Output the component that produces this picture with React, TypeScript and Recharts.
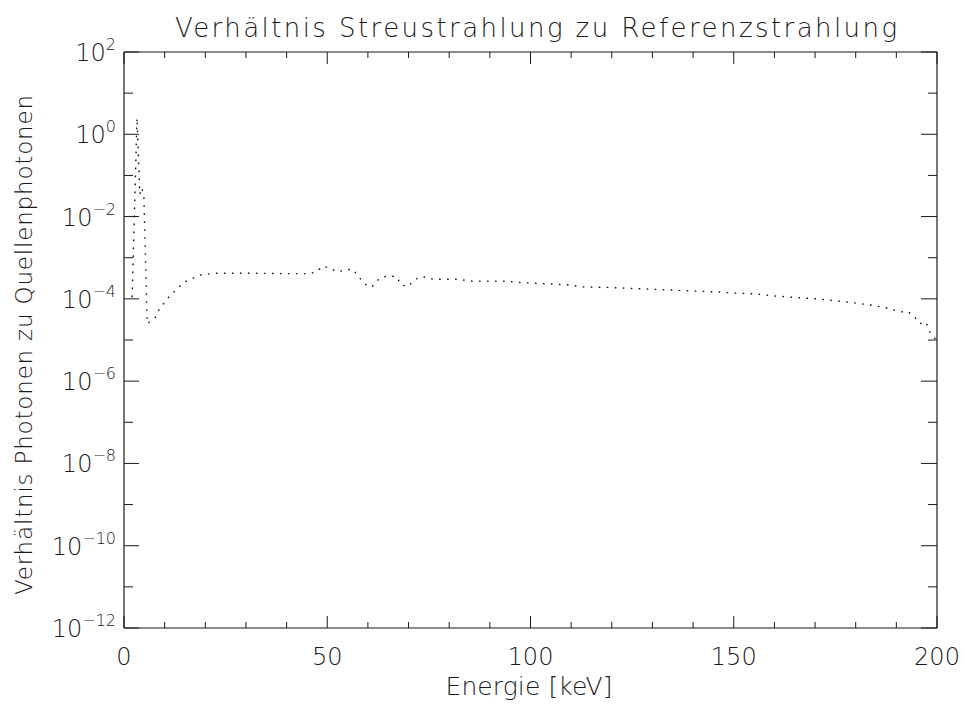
import React from "react";
import { LineChart, Line, XAxis, YAxis } from "recharts";

const energies: number[] = [
  2.0, 3.2, 3.9, 4.4, 4.9, 5.7, 7.6, 8.6, 11, 13.5, 15, 17, 18.7, 20.7, 22.4, 30, 40,
  45.8, 47.5, 49, 51, 52.6, 54.6, 56.3, 57.3, 58.6, 59.8, 61, 62.3, 63.5, 65.5, 67.2,
  68, 69.6, 71.1, 72.6, 74.5, 76, 82, 85.6, 93.2, 97.4, 101, 109, 113, 118.8, 128.7,
  134.3, 140, 145.9, 149.8, 155.7, 159.7, 167, 170.5, 173, 177.9, 183.5, 187.7, 190.9,
  192.6, 194.1, 195.8, 197.3, 198, 199, 200,
];
const ratios: number[] = [
  1.1e-4, 2.5, 0.035, 0.05, 0.03, 2.5e-5, 3.4e-5, 5.4e-5, 1.1e-4, 1.95e-4, 2.6e-4, 3.2e-4,
  3.8e-4, 4.0e-4, 4.2e-4, 4.2e-4, 4.1e-4, 4.1e-4, 4.7e-4, 6.3e-4, 5.3e-4, 4.6e-4, 5.0e-4,
  5.3e-4, 3.9e-4, 2.7e-4, 2.1e-4, 1.95e-4, 2.8e-4, 3.4e-4, 3.6e-4, 3.4e-4, 2.3e-4, 1.95e-4,
  2.6e-4, 3.4e-4, 3.4e-4, 3.0e-4, 3.0e-4, 2.7e-4, 2.7e-4, 2.5e-4, 2.4e-4, 2.2e-4, 1.95e-4,
  1.9e-4, 1.73e-4, 1.65e-4, 1.55e-4, 1.47e-4, 1.39e-4, 1.31e-4, 1.18e-4, 1.05e-4, 1.0e-4,
  9.4e-5, 8.4e-5, 7.1e-5, 6.0e-5, 4.8e-5, 5.0e-5, 4.0e-5, 2.5e-5, 2.7e-5, 1.7e-5, 1.2e-5,
  1.0e-5,
];
const xTicks: number[] = [0, 10, 20, 30, 40, 50, 60, 70, 80, 90, 100, 110, 120, 130, 140, 150, 160, 170, 180, 190, 200];
const xLabelTicks: number[] = [0, 50, 100, 150, 200];
const yTicks: number[] = [1e-12, 1e-11, 1e-10, 1e-9, 1e-8, 1e-7, 1e-6, 1e-5, 1e-4, 1e-3, 1e-2, 1e-1, 1, 10, 100];

const title = "Verhältnis Streustrahlung zu Referenzstrahlung";
const xTitle = "Energie [keV]";
const yTitle = "Verhältnis Photonen zu Quellenphotonen";

const data = energies.map((e, i) => ({ e, r: ratios[i] }));

const FONT = "'DejaVu Sans', sans-serif";
const INK = "#1a1a1a";

const expOf = (v: number) => Math.round(Math.log10(v));
const expText = (n: number) => (n < 0 ? "\u2212" + String(-n) : String(n));

const LeftTick = (props: any) => {
  const { x, y, payload } = props;
  const ex = expOf(payload.value);
  const major = ex % 2 === 0;
  return (
    <g>
      <line x1={x} x2={x + (major ? 15 : 9)} y1={y} y2={y} stroke={INK} strokeWidth={1} />
      {major && (
        <text x={x - 8} y={y + 9} textAnchor="end" fontFamily={FONT} fontWeight={200} fontSize={24} fill={INK}>
          10
          <tspan dy={-11} fontSize={16}>{expText(ex)}</tspan>
        </text>
      )}
    </g>
  );
};

const RightTick = (props: any) => {
  const { x, y, payload } = props;
  const ex = expOf(payload.value);
  const major = ex % 2 === 0;
  return <line x1={x} x2={x - (major ? 16 : 9)} y1={y} y2={y} stroke={INK} strokeWidth={1} />;
};

const BottomTick = (props: any) => {
  const { x, y, payload } = props;
  const v = payload.value;
  const major = xLabelTicks.includes(v);
  return (
    <g>
      <line x1={x} x2={x} y1={y} y2={y - (major ? 12 : 6)} stroke={INK} strokeWidth={1} />
      {major && (
        <text x={x} y={y + 37} textAnchor="middle" fontFamily={FONT} fontWeight={200} fontSize={24} fill={INK}>
          {String(v)}
        </text>
      )}
    </g>
  );
};

const TopTick = (props: any) => {
  const { x, y, payload } = props;
  const major = xLabelTicks.includes(payload.value);
  return <line x1={x} x2={x} y1={y} y2={y + (major ? 12 : 6)} stroke={INK} strokeWidth={1} />;
};

export default function App() {
  return (
    <div style={{ position: "absolute", left: 0, top: 0, width: 962, height: 704, background: "#fff" }}>
      <LineChart
        width={962}
        height={704}
        data={data}
        margin={{ top: 51, right: 24, bottom: 75, left: 123 }}
      >
        <XAxis
          xAxisId="bottom"
          dataKey="e"
          type="number"
          domain={[0, 200]}
          ticks={xTicks}
          interval={0}
          height={1}
          tickSize={0}
          tickMargin={0}
          tick={BottomTick}
          axisLine={{ stroke: INK, strokeWidth: 1.2 }}
          tickLine={false}
          allowDataOverflow
        />
        <XAxis
          xAxisId="top"
          orientation="top"
          dataKey="e"
          type="number"
          domain={[0, 200]}
          ticks={xTicks}
          interval={0}
          height={1}
          tickSize={0}
          tickMargin={0}
          tick={TopTick}
          axisLine={{ stroke: INK, strokeWidth: 1.2 }}
          tickLine={false}
          allowDataOverflow
        />
        <YAxis
          yAxisId="left"
          scale="log"
          type="number"
          domain={[1e-12, 100]}
          ticks={yTicks}
          interval={0}
          width={1}
          tickSize={0}
          tickMargin={0}
          tick={LeftTick}
          axisLine={{ stroke: INK, strokeWidth: 1.2 }}
          tickLine={false}
          allowDataOverflow
        />
        <YAxis
          yAxisId="right"
          orientation="right"
          scale="log"
          type="number"
          domain={[1e-12, 100]}
          ticks={yTicks}
          interval={0}
          width={1}
          tickSize={0}
          tickMargin={0}
          tick={RightTick}
          axisLine={{ stroke: INK, strokeWidth: 1.2 }}
          tickLine={false}
          allowDataOverflow
        />
        <Line
          xAxisId="bottom"
          yAxisId="left"
          type="linear"
          dataKey="r"
          stroke="#111"
          strokeWidth={1.4}
          strokeDasharray="1.6 6.4"
          dot={false}
          isAnimationActive={false}
        />
      </LineChart>
      <svg width={962} height={704} style={{ position: "absolute", left: 0, top: 0, pointerEvents: "none" }}>
        <text x={536} y={37} textAnchor="middle" fontFamily={FONT} fontWeight={200} fontSize={26} fill={INK}
          textLength={722} lengthAdjust="spacing">
          {title}
        </text>
        <text x={529} y={695} textAnchor="middle" fontFamily={FONT} fontWeight={200} fontSize={25} fill={INK}
          textLength={167} lengthAdjust="spacing">
          {xTitle}
        </text>
        <text x={0} y={0} transform="translate(32 345) rotate(-90)" textAnchor="middle" fontFamily={FONT}
          fontWeight={200} fontSize={23} fill={INK} textLength={500} lengthAdjust="spacing">
          {yTitle}
        </text>
      </svg>
    </div>
  );
}
